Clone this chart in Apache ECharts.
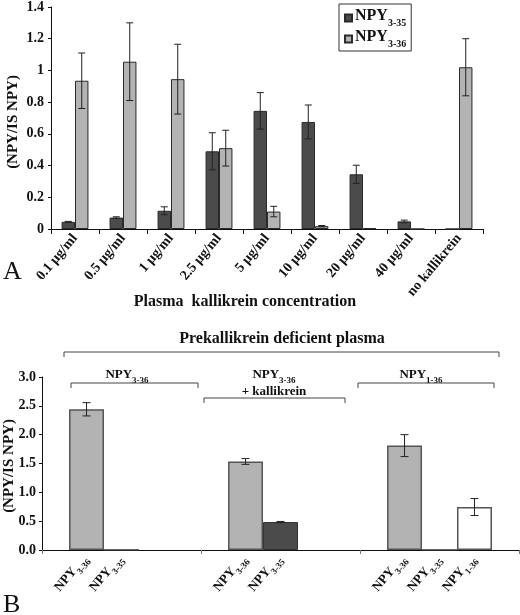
<!DOCTYPE html>
<html>
<head>
<meta charset="utf-8">
<script src="https://cdn.jsdelivr.net/npm/echarts@6/dist/echarts.min.js"></script>
<style>html,body{margin:0;padding:0;background:#fff}#c{width:520px;height:615px}</style>
</head>
<body>
<div id="c"></div>
<script>
// ---------- Panel A data ----------
const catsA = ['0.1 µg/ml', '0.5 µg/ml', '1 µg/ml', '2.5 µg/ml', '5 µg/ml', '10 µg/ml', '20 µg/ml', '40 µg/ml', 'no kallikrein'];
const npy335A = [0.045, 0.072, 0.115, 0.49, 0.745, 0.675, 0.345, 0.048, 0];
const npy335ErrA = [0.003, 0.005, 0.025, 0.117, 0.115, 0.107, 0.057, 0.008, 0];
const npy336A = [0.935, 1.055, 0.945, 0.51, 0.11, 0.018, 0.005, 0, 1.02];
const npy336ErrA = [0.175, 0.245, 0.22, 0.113, 0.033, 0.004, 0, 0, 0.18];
const yTicksA = [0, 0.2, 0.4, 0.6, 0.8, 1, 1.2, 1.4];

// ---------- Panel B data ----------
const groupsB = ['NPY3-36', 'NPY3-36 + kallikrein', 'NPY1-36'];
const seriesNamesB = ['NPY3-36', 'NPY3-35', 'NPY1-36'];
const npy336B = [2.44, 1.535, 1.81];
const npy336ErrB = [0.115, 0.05, 0.19];
const npy335B = [0, 0.485, 0];
const npy335ErrB = [0, 0.01, 0];
const npy136B = [null, null, 0.745];
const npy136ErrB = [null, null, 0.147];
const yTicksB = [0, 0.5, 1.0, 1.5, 2.0, 2.5, 3.0];

const SERIF = '"Liberation Serif", "Times New Roman", serif';
const DARK = '#4b4b4b', LIGHT = '#b3b3b3', EDGE = '#2a2a2a';

function subRich(main, sub) {
  return {
    m: {fontFamily: SERIF, fontWeight: 'bold', fontSize: main, lineHeight: main + 4, verticalAlign: 'top', color: '#111'},
    s: {fontFamily: SERIF, fontWeight: 'bold', fontSize: sub, lineHeight: sub + 1, verticalAlign: 'bottom', color: '#111'}
  };
}
function subText(name) { // 'NPY3-36' -> rich
  return '{m|NPY}{s|' + name.slice(3) + '}';
}

function errRender(n, idx, frac, cap) {
  return function (params, api) {
    const i = api.value(0), v = api.value(1), e = api.value(2);
    if (v == null || isNaN(v) || e == null || isNaN(e) || e <= 0) return null;
    const band = api.size([1, 0])[0];
    const w = band * frac;
    const off = (idx - (n - 1) / 2) * w;
    const t = api.coord([i, v + e]);
    const b = api.coord([i, v - e]);
    const x = t[0] + off;
    const st = {stroke: '#222', lineWidth: 1};
    return {type: 'group', children: [
      {type: 'line', shape: {x1: x, y1: t[1], x2: x, y2: b[1]}, style: st},
      {type: 'line', shape: {x1: x - cap, y1: t[1], x2: x + cap, y2: t[1]}, style: st},
      {type: 'line', shape: {x1: x - cap, y1: b[1], x2: x + cap, y2: b[1]}, style: st}
    ]};
  };
}
function errData(vals, errs) {
  return vals.map((v, i) => [i, v, errs[i]]);
}

const FRAC_A = 0.28, FRAC_B = 0.22;

// label slots for panel B: one per drawn bar, placed at the bar centre on a value axis
// that spans the same range as the category axis (-0.5 .. n-0.5)
const slotsB = [];
[npy336B, npy335B, npy136B].forEach((vals, k) => {
  vals.forEach((v, i) => {
    if (v == null) return;
    slotsB.push({pos: i + (k - 1) * FRAC_B, name: seriesNamesB[k]});
  });
});
slotsB.sort((a, b) => a.pos - b.pos);
function slotName(v) {
  let best = slotsB[0];
  slotsB.forEach(s => { if (Math.abs(s.pos - v) < Math.abs(best.pos - v)) best = s; });
  return best.name;
}

const axisLabelStyle = {fontFamily: SERIF, fontWeight: 'bold', fontSize: 14, color: '#111'};

function bracket(x1, x2, y, d) {
  return {type: 'polyline', shape: {points: [[x1, y + d], [x1, y], [x2, y], [x2, y + d]]},
          style: {stroke: '#444', lineWidth: 1, fill: null}, silent: true};
}
function label(text, x, y, size, rich) {
  return {type: 'text', x: x, y: y, silent: true,
          style: {text: text, fontFamily: SERIF, fontWeight: 'bold', fontSize: size, fill: '#111',
                  align: 'center', verticalAlign: 'middle', rich: rich}};
}

const option = {
  animation: false,
  backgroundColor: '#fff',
  grid: [
    {left: 51, right: 37, top: 5, bottom: 386},
    {left: 42, right: 1, top: 377, bottom: 65}
  ],
  legend: {
    data: ['NPY3-35', 'NPY3-36'],
    left: 339, top: 4, orient: 'vertical',
    borderColor: '#333', borderWidth: 1, padding: [4, 5, 2, 5],
    itemWidth: 7, itemHeight: 7, itemGap: 1,
    icon: 'rect',
    formatter: n => subText(n),
    textStyle: {rich: subRich(16, 10), padding: [0, 0, 0, -2]}
  },
  xAxis: [
    {gridIndex: 0, type: 'category', data: catsA,
     axisLine: {lineStyle: {color: '#111', width: 1}},
     axisTick: {show: true, interval: 0, length: 5, lineStyle: {color: '#111'}},
     axisLabel: {interval: 0, rotate: 50, margin: 7, fontFamily: SERIF, fontWeight: 'bold', fontSize: 14, color: '#111'}},
    {gridIndex: 1, type: 'category', data: groupsB,
     axisLine: {onZero: false, lineStyle: {color: '#111', width: 1}},
     axisTick: {show: true, interval: 0, length: 4, lineStyle: {color: '#777'}},
     axisLabel: {show: false}},
    {gridIndex: 1, type: 'value', position: 'bottom', min: -0.5, max: groupsB.length - 0.5,
     axisLine: {show: false, onZero: false}, axisTick: {show: false}, splitLine: {show: false},
     axisLabel: {show: true, customValues: slotsB.map(s => s.pos), rotate: 50, margin: 8,
                 hideOverlap: false, showMinLabel: true, showMaxLabel: true,
                 formatter: v => subText(slotName(v)), rich: subRich(13, 9)}}
  ],
  yAxis: [
    {gridIndex: 0, type: 'value', min: yTicksA[0], max: yTicksA[yTicksA.length - 1], interval: 0.2,
     splitLine: {show: false},
     axisLine: {show: true, lineStyle: {color: '#111'}},
     axisTick: {show: true, length: 3, lineStyle: {color: '#111'}},
     axisLabel: Object.assign({margin: 7, formatter: v => String(+v.toFixed(1))}, axisLabelStyle)},
    {gridIndex: 1, type: 'value', min: yTicksB[0], max: yTicksB[yTicksB.length - 1], interval: 0.5,
     splitLine: {show: false},
     axisLine: {show: true, onZero: false, lineStyle: {color: '#111'}},
     axisTick: {show: true, length: 3, lineStyle: {color: '#111'}},
     axisLabel: Object.assign({margin: 6, formatter: v => v.toFixed(1)}, axisLabelStyle)}
  ],
  series: [
    {name: 'NPY3-35', type: 'bar', xAxisIndex: 0, yAxisIndex: 0, data: npy335A,
     barWidth: (FRAC_A * 100) + '%', barGap: '0%',
     itemStyle: {color: DARK, borderColor: EDGE, borderWidth: 1}},
    {name: 'NPY3-36', type: 'bar', xAxisIndex: 0, yAxisIndex: 0, data: npy336A,
     barWidth: (FRAC_A * 100) + '%', barGap: '0%',
     itemStyle: {color: LIGHT, borderColor: EDGE, borderWidth: 1}},
    {type: 'custom', xAxisIndex: 0, yAxisIndex: 0, z: 5, data: errData(npy335A, npy335ErrA),
     renderItem: errRender(2, 0, FRAC_A, 3.5), silent: true},
    {type: 'custom', xAxisIndex: 0, yAxisIndex: 0, z: 5, data: errData(npy336A, npy336ErrA),
     renderItem: errRender(2, 1, FRAC_A, 3.5), silent: true},

    {name: 'B NPY3-36', type: 'bar', xAxisIndex: 1, yAxisIndex: 1, data: npy336B,
     barWidth: (FRAC_B * 100) + '%', barGap: '0%',
     itemStyle: {color: LIGHT, borderColor: '#555', borderWidth: 1.5}},
    {name: 'B NPY3-35', type: 'bar', xAxisIndex: 1, yAxisIndex: 1, data: npy335B,
     barWidth: (FRAC_B * 100) + '%', barGap: '0%',
     itemStyle: {color: DARK, borderColor: '#333', borderWidth: 1}},
    {name: 'B NPY1-36', type: 'bar', xAxisIndex: 1, yAxisIndex: 1, data: npy136B,
     barWidth: (FRAC_B * 100) + '%', barGap: '0%',
     itemStyle: {color: '#fff', borderColor: '#555', borderWidth: 1.5}},
    {type: 'custom', xAxisIndex: 1, yAxisIndex: 1, z: 5, data: errData(npy336B, npy336ErrB),
     renderItem: errRender(3, 0, FRAC_B, 4), silent: true},
    {type: 'custom', xAxisIndex: 1, yAxisIndex: 1, z: 5, data: errData(npy335B, npy335ErrB),
     renderItem: errRender(3, 1, FRAC_B, 4), silent: true},
    {type: 'custom', xAxisIndex: 1, yAxisIndex: 1, z: 5, data: errData(npy136B, npy136ErrB),
     renderItem: errRender(3, 2, FRAC_B, 4), silent: true}
  ],
  graphic: [
    {type: 'text', x: 13, y: 122, rotation: Math.PI / 2, silent: true,
     style: {text: '(NPY/IS NPY)', fontFamily: SERIF, fontWeight: 'bold', fontSize: 15, fill: '#111', align: 'center', verticalAlign: 'middle'}},
    {type: 'text', x: 9, y: 466, rotation: Math.PI / 2, silent: true,
     style: {text: '(NPY/IS NPY)', fontFamily: SERIF, fontWeight: 'bold', fontSize: 15, fill: '#111', align: 'center', verticalAlign: 'middle'}},
    {type: 'text', left: 3, top: 259, silent: true,
     style: {text: 'A', fontFamily: SERIF, fontSize: 26, fill: '#111'}},
    {type: 'text', left: 3, top: 592, silent: true,
     style: {text: 'B', fontFamily: SERIF, fontSize: 26, fill: '#111'}},
    label('Plasma  kallikrein concentration', 245, 302, 16),
    label('Prekallikrein deficient plasma', 282, 339, 16),
    bracket(64, 499, 352, 5),
    label(subText('NPY3-36'), 127, 377, 13, subRich(13, 9)),
    bracket(71, 198, 383, 5),
    label(subText('NPY3-36'), 274, 377, 13, subRich(13, 9)),
    label('+ kallikrein', 274, 392, 13),
    bracket(204, 345, 398, 5),
    label(subText('NPY1-36'), 421, 377, 13, subRich(13, 9)),
    bracket(358, 494, 383, 5)
  ]
};

const chart = echarts.init(document.getElementById('c'), null, {renderer: 'canvas'});
chart.setOption(option);
</script>
</body>
</html>
